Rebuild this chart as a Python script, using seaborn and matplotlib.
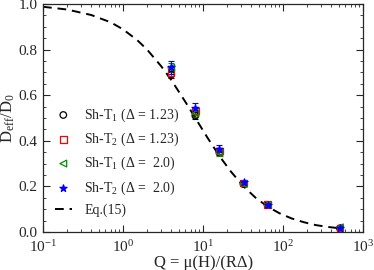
import numpy as np
import pandas as pd
import matplotlib
matplotlib.use("Agg")
import matplotlib.pyplot as plt
import seaborn as sns
from matplotlib.ticker import MultipleLocator, LogLocator

# valores
q_points = [4, 8, 16, 32, 64, 512]
t1_123 = [0.69, 0.510, 0.350, 0.210, 0.118, 0.016]
t2_123 = [0.700, 0.530, 0.355, 0.215, 0.120, 0.018]
t1_20 = [0.720, 0.520, 0.345, 0.210, 0.118, 0.020]
t2_20 = [0.722, 0.545, 0.365, 0.220, 0.120, 0.017]
err_t1_123 = [0.015, 0.015, 0.012, 0.008, 0.006, 0.004]
err_t2_123 = [0.015, 0.015, 0.012, 0.008, 0.006, 0.004]
err_t1_20 = [0.020, 0.015, 0.012, 0.008, 0.006, 0.004]
err_t2_20 = [0.027, 0.020, 0.015, 0.010, 0.007, 0.005]

# curva Eq.(15) lida ponto a ponto
q_curve = [0.1, 0.2, 0.4, 0.7, 1, 1.5, 2, 3, 4, 6, 8, 11, 16, 22, 32, 45,
           64, 90, 128, 180, 256, 360, 512]
d_curve = [0.988, 0.976, 0.952, 0.920, 0.889, 0.842, 0.800, 0.727, 0.667,
           0.571, 0.500, 0.421, 0.333, 0.267, 0.200, 0.151, 0.111, 0.082,
           0.059, 0.043, 0.030, 0.022, 0.016]

series = [
    ("Sh-T$_1$ (Δ = 1.23)", t1_123, err_t1_123, "black", "o", 22),
    ("Sh-T$_2$ (Δ = 1.23)", t2_123, err_t2_123, "red", "s", 22),
    ("Sh-T$_1$ (Δ =  2.0)", t1_20, err_t1_20, "#009000", "<", 24),
    ("Sh-T$_2$ (Δ =  2.0)", t2_20, err_t2_20, "blue", "*", 28),
]

sns.set_theme(style="ticks")
plt.rcParams.update({
    "font.family": ["Liberation Serif", "DejaVu Serif"],
    "mathtext.fontset": "custom",
    "mathtext.rm": "Liberation Serif",
    "mathtext.it": "Liberation Serif:italic",
    "mathtext.bf": "Liberation Serif:bold",
    "font.size": 10,
})

fig = plt.figure(figsize=(3.74, 2.70), dpi=100)
ax = fig.add_axes([0.115, 0.141, 0.856, 0.844])

for label, vals, errs, color, marker, size in series:
    ax.errorbar(q_points, vals, yerr=errs, fmt="none", ecolor=color,
                elinewidth=0.8, capsize=2, capthick=0.8)
    filled = marker == "*"
    sns.scatterplot(x=q_points, y=vals, ax=ax, marker=marker, s=size,
                    facecolor=color if filled else "none", edgecolor=color,
                    linewidth=0.9, label=label, zorder=3)

curve = pd.DataFrame({"Q": q_curve, "D": d_curve})
sns.lineplot(data=curve, x="Q", y="D", ax=ax, color="black", linewidth=1.4,
             dashes=False, linestyle=(0, (4.5, 3)), label="Eq.(15)", zorder=2)

ax.set_xscale("log")
ax.set_xlim(0.1, 1000)
ax.set_ylim(0.0, 1.0)
ax.yaxis.set_major_locator(MultipleLocator(0.2))
ax.yaxis.set_minor_locator(MultipleLocator(0.05))
ax.xaxis.set_major_locator(LogLocator(base=10, numticks=10))
ax.xaxis.set_minor_locator(LogLocator(base=10, subs=np.arange(2, 10), numticks=10))
ax.yaxis.set_major_formatter(matplotlib.ticker.FormatStrFormatter("%.1f"))
ax.tick_params(which="both", direction="in", top=True, right=True,
               labelsize=11)
ax.tick_params(axis="x", pad=5)
ax.tick_params(axis="y", pad=4)
ax.tick_params(which="major", length=5, width=0.8)
ax.tick_params(which="minor", length=2.5, width=0.6)
for sp in ax.spines.values():
    sp.set_linewidth(0.9)

ax.set_xlabel("Q = μ(H)/(RΔ)", fontsize=12, labelpad=0)
ax.set_ylabel("D$_{\\mathrm{eff}}$/D$_0$", fontsize=12, labelpad=1)

ax.legend(loc="upper left", bbox_to_anchor=(0.02, 0.575), frameon=False,
          fontsize=10, handlelength=1.2, handletextpad=0.9,
          labelspacing=0.5, borderaxespad=0)

plt.savefig("out.png", dpi=100)
